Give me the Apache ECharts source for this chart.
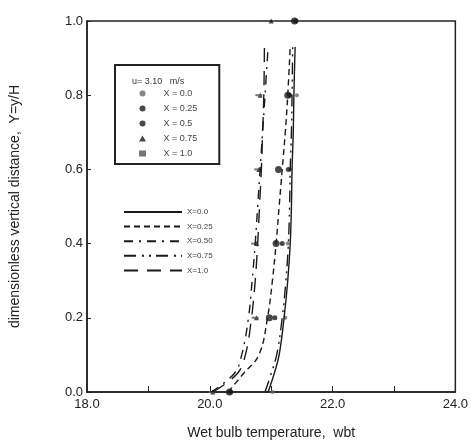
<!DOCTYPE html>
<html lang="en">
<head>
  <meta charset="UTF-8">
  <title>Wet bulb temperature profile</title>
  <script src="https://cdn.jsdelivr.net/npm/echarts@6/dist/echarts.min.js"></script>
</head>
<style>
    html, body { margin: 0; background: #fff; }
    #main { width: 471px; height: 445px; }
</style>
<body>
<div id="main"></div>
<script>
  const curveY   = [0, 0.05, 0.1, 0.2, 0.3, 0.4, 0.5, 0.6, 0.7, 0.8, 0.93]
  const curveX00 = [20.95, 21.05, 21.13, 21.21, 21.27, 21.31, 21.33, 21.34, 21.36, 21.37, 21.39]
  const curveX25 = [20.30, 20.55, 20.80, 20.94, 21.02, 21.08, 21.13, 21.18, 21.23, 21.27, 21.31]
  const curveX50 = [20.02, 20.40, 20.52, 20.63, 20.69, 20.74, 20.78, 20.82, 20.86, 20.90, 20.95]
  const curveX75 = [20.90, 21.00, 21.09, 21.18, 21.24, 21.28, 21.30, 21.31, 21.33, 21.34, 21.35]
  const curveX10 = [20.05, 20.45, 20.58, 20.68, 20.74, 20.78, 20.81, 20.84, 20.86, 20.88, 20.89]

  // measured points
  const ptY   = [0, 0.2, 0.4, 0.6, 0.8, 1.0]
  const ptX00 = [21.02, 21.23, 21.27, 21.31, 21.42, 21.42]
  const ptX25 = [20.34, 21.06, 21.18, 21.28, 21.30, 21.40]
  const ptX50 = [20.32, 20.97, 21.08, 21.12, 21.27, 21.38]
  const ptX75 = [20.05, 20.76, 20.76, 20.80, 20.82, 21.00]
  const ptX10 = [20.03, 20.74, 20.73, 20.78, 20.80, 20.92]

  const lineNames  = ['X=0.0', 'X=0.25', 'X=0.50', 'X=0.75', 'X=1.0']
  const pointNames = ['X = 0.0', 'X = 0.25', 'X = 0.5', 'X = 0.75', 'X = 1.0']

  const pair = (xs, ys) => xs.map((v, i) => [v, ys[i]])

  const ink = '#1a1a1a'
  const lineTypes = ['solid', [6, 4], [9, 6, 2, 6], [12, 6, 2, 5, 2, 5], [14, 9]]
  const curves = [curveX00, curveX25, curveX50, curveX75, curveX10]
  const points = [ptX00, ptX25, ptX50, ptX75, ptX10]
  const symbols = [
    { symbol: 'circle', size: 4, color: '#666' },
    { symbol: 'circle', size: 5, color: ink },
    { symbol: 'circle', size: 7, color: ink },
    { symbol: 'triangle', size: 5, color: ink },
    { symbol: 'rect', size: [7, 2], color: '#555' }
  ]

  const series = []
  curves.forEach((c, i) => {
    series.push({
      name: lineNames[i],
      type: 'line',
      data: pair(c, curveY),
      smooth: 0.4,
      symbol: 'none',
      itemStyle: { color: ink },
      lineStyle: { color: ink, width: 1.4, type: lineTypes[i] }
    })
  })
  points.forEach((p, i) => {
    series.push({
      name: pointNames[i],
      type: 'scatter',
      data: pair(p, ptY),
      symbol: symbols[i].symbol,
      symbolSize: symbols[i].size,
      itemStyle: { color: symbols[i].color }
    })
  })

  const chart = echarts.init(document.getElementById('main'))
  chart.setOption({
    animation: false,
    textStyle: { fontFamily: 'Liberation Sans, Arial, sans-serif' },
    title: {
      text: 'u= 3.10   m/s',
      left: 127,
      top: 72,
      textStyle: { fontSize: 9, fontWeight: 'normal', color: '#333' }
    },
    legend: [
      {
        data: pointNames,
        orient: 'vertical',
        left: 115,
        top: 65,
        padding: [24, 22, 6, 24],
        borderColor: '#222',
        borderWidth: 2,
        itemWidth: 7,
        itemHeight: 6,
        itemGap: 6,
        formatter: n => '     ' + n,
        textStyle: { fontSize: 9, color: '#444' }
      },
      {
        data: lineNames,
        orient: 'vertical',
        left: 123,
        top: 208,
        padding: 0,
        itemWidth: 58,
        itemHeight: 8,
        itemGap: 6.6,
        itemStyle: { opacity: 0 },
        textStyle: { fontSize: 8, color: '#444' }
      }
    ],
    grid: {
      left: 85, right: 14, top: 21, bottom: 53,
      show: true,
      borderColor: '#222',
      borderWidth: 1.5
    },
    xAxis: {
      type: 'value',
      min: 18, max: 24, interval: 1,
      name: 'Wet bulb temperature,  wbt',
      nameLocation: 'middle',
      nameGap: 34,
      nameTextStyle: { fontSize: 14, color: '#222' },
      axisLine: { lineStyle: { color: '#222', width: 1.5 } },
      axisTick: { inside: true, length: 6, lineStyle: { color: '#222' } },
      axisLabel: {
        margin: 6, fontSize: 13, color: '#222',
        formatter: v => (v % 2 === 0 ? v.toFixed(1) : '')
      },
      splitLine: { show: false }
    },
    yAxis: {
      type: 'value',
      min: 0, max: 1, interval: 0.2,
      name: 'dimensionless vertical distance,  Y=y/H',
      nameLocation: 'middle',
      nameGap: 65,
      nameTextStyle: { fontSize: 14, color: '#222' },
      axisLine: { lineStyle: { color: '#222', width: 1.5 } },
      axisTick: { inside: true, length: 4, lineStyle: { color: '#222' } },
      axisLabel: { margin: 4, fontSize: 13, color: '#222', formatter: v => v.toFixed(1) },
      splitLine: { show: false }
    },
    series: series
  })
</script>
</body>
</html>
